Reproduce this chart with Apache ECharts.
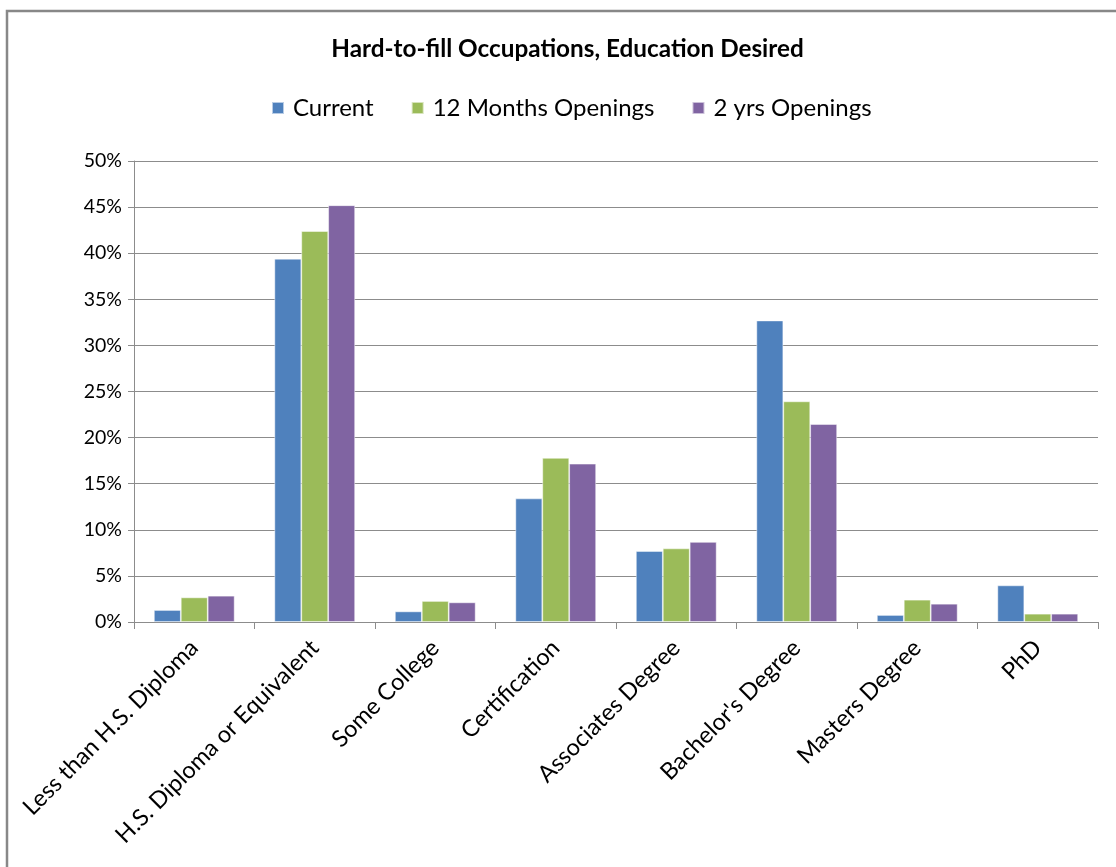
<!DOCTYPE html>
<html>
<head>
<meta charset="utf-8">
<script src="https://cdn.jsdelivr.net/npm/echarts@6/dist/echarts.min.js"></script>
<style>
html,body{margin:0;padding:0;background:#fff;}
#chart{width:1116px;height:867px;}
</style>
</head>
<body>
<div id="chart"></div>
<script>
const categories = ["Less than H.S. Diploma", "H.S. Diploma or Equivalent", "Some College", "Certification", "Associates Degree", "Bachelor's Degree", "Masters Degree", "PhD"];
const current = [1.3, 39.4, 1.15, 13.4, 7.7, 32.7, 0.76, 3.97];
const months12 = [2.67, 42.4, 2.28, 17.8, 7.98, 23.93, 2.42, 0.9];
const years2 = [2.85, 45.2, 2.13, 17.17, 8.68, 21.47, 1.98, 0.9];
const seriesNames = ["Current", "12 Months Openings", "2 yrs Openings"];
const titleText = 'Hard-to-fill Occupations, Education Desired';

const FONT = "Lato";
const chart = echarts.init(document.getElementById('chart'));
const mk = (name, data, color) => ({
  name, type: 'bar', data,
  barGap: '0%', barCategoryGap: '33%',
  itemStyle: { color, borderColor: 'rgba(255,255,255,0.6)', borderWidth: 0.8 }
});
chart.setOption({
  animation: false,
  backgroundColor: '#fff',
  legend: {
    top: 96, left: 271, padding: 0,
    itemWidth: 12, itemHeight: 12, itemGap: 37,
    icon: 'rect',
    data: seriesNames,
    textStyle: { fontFamily: FONT, fontSize: 24, color: '#000', padding: [0, 0, 0, 4] }
  },
  graphic: [{
    type: 'rect', shape: { x: 7, y: 11, width: 1200, height: 1000 },
    style: { fill: 'none', stroke: '#888', lineWidth: 2.5 }, silent: true
  }, {
    type: 'text', x: 567.5, y: 49, silent: true,
    style: { text: titleText, textAlign: 'center', textVerticalAlign: 'middle',
      fontFamily: FONT, fontWeight: 'bold', fontSize: 24.3, fill: '#000' }
  }],
  grid: { left: 134, right: 18, top: 161, bottom: 245, containLabel: false },
  xAxis: {
    type: 'category', data: categories,
    axisLine: { lineStyle: { color: '#8c8c8c', width: 1 } },
    axisTick: { show: true, length: 7, lineStyle: { color: '#8c8c8c' } },
    axisLabel: { rotate: 45, interval: 0, margin: 22, fontFamily: FONT, fontSize: 23.5, color: '#000' }
  },
  yAxis: {
    type: 'value', min: 0, max: 50, interval: 5,
    axisLine: { show: true, lineStyle: { color: '#8c8c8c', width: 1 } },
    axisTick: { show: true, length: 6, lineStyle: { color: '#8c8c8c' } },
    splitLine: { lineStyle: { color: '#8c8c8c', width: 1 } },
    axisLabel: { formatter: '{value}%', margin: 12, fontFamily: FONT, fontSize: 19.5, color: '#000' }
  },
  series: [
    mk(seriesNames[0], current, '#4F81BD'),
    mk(seriesNames[1], months12, '#9BBB59'),
    mk(seriesNames[2], years2, '#8064A2')
  ]
});
</script>
</body>
</html>
